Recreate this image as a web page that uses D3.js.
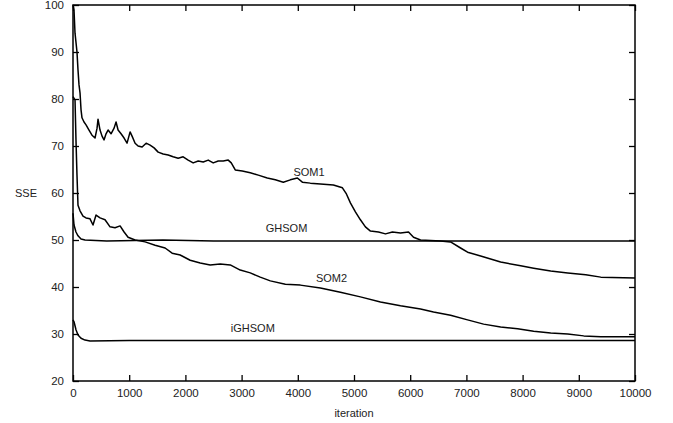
<!DOCTYPE html>
<html>
<head>
<meta charset="utf-8">
<script src="https://cdn.jsdelivr.net/npm/d3@7"></script>
<style>
  body { margin: 0; background: #fff; }
  text { font-family: "Liberation Sans", Arial, sans-serif; fill: #222; }
</style>
</head>
<body>
<div id="chart"></div>
<script>
const width = 673;
const height = 423;
const margin = { top: 5, right: 38, bottom: 42, left: 73 };

// [iteration, SSE]
const som1 = [
  [0, 100], [18, 98.9], [36, 94], [71, 90], [89, 86.2], [107, 83], [125, 81.3],
  [143, 77.7], [160, 76], [196, 75.1], [232, 74.5], [285, 73.4], [338, 72.3],
  [392, 71.7], [428, 73.8], [445, 75.7], [481, 73.4], [517, 72.1], [552, 71.3],
  [588, 72.6], [624, 73.4], [677, 72.6], [731, 73.8], [766, 75.1], [802, 73.4],
  [855, 72.6], [909, 71.7], [962, 70.6], [1016, 73], [1051, 72.1], [1105, 70.6],
  [1158, 70], [1230, 69.8], [1301, 70.6], [1372, 70.2], [1443, 69.6], [1515, 68.7],
  [1604, 68.3], [1693, 68.1], [1782, 67.7], [1871, 67.4], [1960, 67.7], [2049, 67],
  [2138, 66.4], [2228, 66.8], [2317, 66.6], [2406, 67], [2495, 66.4], [2584, 66.8],
  [2673, 66.8], [2762, 67], [2816, 66.4], [2887, 64.9], [3012, 64.7], [3154, 64.3],
  [3297, 63.8], [3457, 63.2], [3600, 62.8], [3742, 62.3], [3867, 62.8], [3992, 63.2],
  [4081, 62.3], [4223, 62.1], [4402, 61.9], [4633, 61.7], [4794, 61.1], [4865, 59.8],
  [4936, 57.9], [5025, 56], [5114, 54.3], [5203, 52.8], [5293, 51.9], [5435, 51.7],
  [5560, 51.3], [5684, 51.7], [5827, 51.5], [5970, 51.7], [6059, 50.6], [6184, 50],
  [6540, 49.8], [6718, 49.6], [6896, 48.3], [7021, 47.4], [7253, 46.6], [7609, 45.3],
  [7966, 44.5], [8197, 44], [8500, 43.4], [8803, 43], [9124, 42.6], [9391, 42.1],
  [10000, 41.9]
];

const som2 = [
  [0, 80.5], [36, 79.8], [53, 71.3], [71, 63.8], [89, 57.4], [125, 56.2], [178, 55.1],
  [232, 54.7], [303, 54.5], [356, 53.2], [410, 55.3], [481, 54.7], [570, 54.3],
  [659, 52.8], [748, 52.6], [838, 53], [909, 51.7], [980, 50.6], [1105, 50],
  [1283, 49.6], [1461, 48.9], [1639, 48.3], [1764, 47.2], [1907, 46.8], [2085, 45.7],
  [2263, 45.1], [2441, 44.7], [2620, 44.9], [2798, 44.7], [2976, 43.6], [3154, 43],
  [3332, 42.1], [3511, 41.3], [3778, 40.6], [4045, 40.4], [4402, 39.8], [4758, 38.9],
  [5114, 37.9], [5471, 36.8], [5827, 36], [6184, 35.3], [6415, 34.7], [6718, 34],
  [7021, 33], [7306, 32.1], [7609, 31.5], [7912, 31.1], [8197, 30.6], [8500, 30.2],
  [8803, 30], [9088, 29.6], [9391, 29.4], [10000, 29.4]
];

const ghsom = [
  [0, 55.7], [18, 53.2], [53, 51.7], [89, 50.9], [143, 50.2], [214, 50], [600, 49.8],
  [1600, 50], [2500, 49.8], [4000, 49.8], [6000, 49.8], [10000, 49.8]
];

const ighsom = [
  [0, 33], [18, 32.6], [53, 30.9], [89, 29.8], [143, 29.1], [214, 28.7], [303, 28.5],
  [1000, 28.6], [5000, 28.6], [10000, 28.6]
];

const curveLabels = [
  { name: "SOM1", x: 4200, y: 63.6 },
  { name: "GHSOM", x: 3800, y: 51.6 },
  { name: "SOM2", x: 4600, y: 41.0 },
  { name: "iGHSOM", x: 3200, y: 30.4 }
];

const xTicks = d3.range(0, 10001, 1000);
const yTicks = d3.range(20, 101, 10);

const svg = d3.select("#chart").append("svg")
  .attr("width", width)
  .attr("height", height);

const x = d3.scaleLinear().domain([0, 10000]).range([margin.left, width - margin.right]);
const y = d3.scaleLinear().domain([20, 100]).range([height - margin.bottom, margin.top]);

// ticks pointing inward on all four sides
svg.append("g")
  .attr("transform", `translate(0,${y(20)})`)
  .call(d3.axisBottom(x).tickValues(xTicks).tickSize(-6).tickPadding(8).tickFormat(d3.format("d")))
  .call(g => g.select(".domain").remove());
svg.append("g")
  .attr("transform", `translate(0,${y(100)})`)
  .call(d3.axisTop(x).tickValues(xTicks).tickSize(-6).tickFormat(""))
  .call(g => g.select(".domain").remove());
svg.append("g")
  .attr("transform", `translate(${x(0)},0)`)
  .call(d3.axisLeft(y).tickValues(yTicks).tickSize(-6).tickPadding(9))
  .call(g => g.select(".domain").remove());
svg.append("g")
  .attr("transform", `translate(${x(10000)},0)`)
  .call(d3.axisRight(y).tickValues(yTicks).tickSize(-6).tickFormat(""))
  .call(g => g.select(".domain").remove());

svg.selectAll(".tick line").attr("stroke", "#000").attr("stroke-width", 1.3);
svg.selectAll(".tick text")
  .style("font-size", "11.5px")
  .style("font-family", "Liberation Sans, Arial, sans-serif")
  .attr("fill", "#222");

svg.append("rect")
  .attr("x", x(0)).attr("y", y(100))
  .attr("width", x(10000) - x(0)).attr("height", y(20) - y(100))
  .attr("fill", "none").attr("stroke", "#000").attr("stroke-width", 1.5);

const line = d3.line().x(d => x(d[0])).y(d => y(d[1]));

[som1, ghsom, som2, ighsom].forEach(series => {
  svg.append("path")
    .datum(series)
    .attr("d", line)
    .attr("fill", "none")
    .attr("stroke", "#000")
    .attr("stroke-width", 1.5)
    .attr("stroke-linejoin", "round");
});

svg.selectAll(".curve-label")
  .data(curveLabels)
  .enter().append("text")
  .attr("class", "curve-label")
  .attr("x", d => x(d.x))
  .attr("y", d => y(d.y))
  .attr("text-anchor", "middle")
  .style("font-size", "11px")
  .text(d => d.name);

svg.append("text")
  .attr("x", 26).attr("y", y(60) + 4)
  .attr("text-anchor", "middle")
  .style("font-size", "11px")
  .text("SSE");

svg.append("text")
  .attr("x", x(5000)).attr("y", 417)
  .attr("text-anchor", "middle")
  .style("font-size", "11px")
  .text("iteration");
</script>
</body>
</html>
